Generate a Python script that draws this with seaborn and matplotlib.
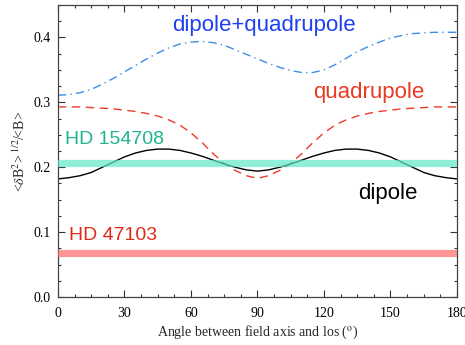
import numpy as np
import pandas as pd
import matplotlib
matplotlib.use("Agg")
import matplotlib.pyplot as plt
import seaborn as sns

angle = list(range(0, 181, 5))

dipole_half = [0.182, 0.184, 0.187, 0.192, 0.200, 0.208, 0.216, 0.222, 0.226, 0.228,
               0.228, 0.226, 0.222, 0.217, 0.211, 0.205, 0.200, 0.196, 0.194]
dipole = dipole_half + dipole_half[-2::-1]

quad_half = [0.293, 0.293, 0.293, 0.292, 0.291, 0.290, 0.288, 0.286, 0.283, 0.279,
             0.273, 0.265, 0.253, 0.238, 0.221, 0.206, 0.195, 0.187, 0.183]
quadrupole = quad_half + quad_half[-2::-1]

dip_quad = [0.311, 0.312, 0.315, 0.320, 0.328, 0.337, 0.347, 0.357, 0.367, 0.376,
            0.384, 0.390, 0.393, 0.394, 0.392, 0.388, 0.381, 0.374, 0.367, 0.360,
            0.354, 0.349, 0.346, 0.346, 0.350, 0.358, 0.368, 0.378, 0.386, 0.393,
            0.399, 0.403, 0.406, 0.407, 0.408, 0.408, 0.408]

# observed values for the two stars
star_names = ["HD 154708", "HD 47103"]
star_values = [0.207, 0.068]

df = pd.DataFrame({"angle": angle, "dipole": dipole,
                   "quadrupole": quadrupole, "dip_quad": dip_quad})

sns.set_theme(style="ticks")
plt.rcParams["font.family"] = ["Liberation Serif", "DejaVu Serif"]
plt.rcParams["mathtext.fontset"] = "stix"

fig = plt.figure(figsize=(4.65, 3.45), dpi=100)
ax = fig.add_axes([0.1247, 0.139, 0.858, 0.8464])

sns.lineplot(data=df, x="angle", y="dip_quad", ax=ax, color="#3b8fe6", lw=1.0)
ax.lines[-1].set_dashes([6, 3, 1, 3])
sns.lineplot(data=df, x="angle", y="quadrupole", ax=ax, color="#ee3b2b", lw=1.0)
ax.lines[-1].set_dashes([6, 4])
sns.lineplot(data=df, x="angle", y="dipole", ax=ax, color="black", lw=1.0)

ax.axhline(star_values[0], xmax=0.995, color="#5fe8c8", alpha=0.7, lw=5.2, zorder=3)
ax.axhline(star_values[1], xmax=0.995, color="#ff6a6a", alpha=0.7, lw=5.2, zorder=3)

sans = ["Liberation Sans", "DejaVu Sans"]
ax.text(93, 0.418, "dipole+quadrupole", color="#1e40ee", fontsize=16,
        family=sans, ha="center", va="center")
ax.text(140, 0.315, "quadrupole", color="#e83a22", fontsize=16,
        family=sans, ha="center", va="center")
ax.text(3.0, 0.243, star_names[0], color="#22b390", fontsize=14,
        family=sans, ha="left", va="center")
ax.text(149, 0.160, "dipole", color="black", fontsize=16,
        family=sans, ha="center", va="center")
ax.text(5, 0.095, star_names[1], color="#e02a18", fontsize=14,
        family=sans, ha="left", va="center")

ax.set_xlim(0, 180)
ax.set_ylim(0, 0.45)
ax.set_xticks(range(0, 181, 30))
ax.set_xticks(np.arange(0, 181, 7.5), minor=True)
ax.set_yticks([0.0, 0.1, 0.2, 0.3, 0.4])
ax.set_yticks(np.arange(0, 0.451, 0.025), minor=True)
ax.yaxis.set_major_formatter(matplotlib.ticker.FormatStrFormatter("%.1f"))

ax.tick_params(which="both", direction="in", top=True, right=True,
               colors="#333333", labelcolor="black", labelsize=10)
ax.tick_params(which="major", length=5, width=0.8)
ax.tick_params(which="minor", length=2.5, width=0.8)
ax.tick_params(axis="x", pad=7)
ax.tick_params(axis="y", pad=5)
for sp in ax.spines.values():
    sp.set_color("#444444")
    sp.set_linewidth(0.9)

ax.set_xlabel(r"Angle between field axis and los ($^{\rm o}$)", fontsize=10,
              labelpad=3)
ax.set_ylabel(r"<$\delta$B$^2$>$^{\ 1/2}$/<B>", fontsize=10, labelpad=4)

fig.savefig("out.png", dpi=100)
